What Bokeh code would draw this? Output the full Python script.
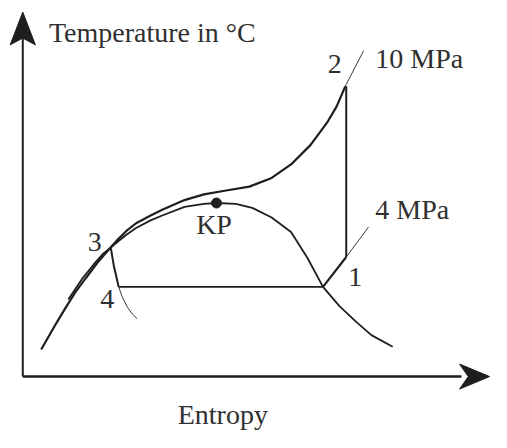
from bokeh.plotting import figure
from bokeh.models import Range1d, ColumnDataSource
from bokeh.core.properties import value
from bokeh.embed import file_html
from bokeh.resources import INLINE

# ---- data (entropy s, temperature T in diagram units) ----
iso10_s = [42, 50, 58, 67, 77, 88, 100, 113, 120, 130, 140, 155, 167, 190, 210, 233, 257, 280, 300, 320, 337, 347, 356]
iso10_T = [86, 100, 114, 129, 145, 160, 176, 191, 199, 209, 217, 225, 231, 241, 247, 251, 255, 264, 278, 298, 321, 338, 359]

dome_s = [70, 84, 96, 106, 113, 120, 130, 140, 155, 167, 190, 210, 223, 243, 260, 280, 300, 317, 333, 350, 367, 383, 405]
dome_T = [138, 159, 174, 185.5, 191, 197, 205, 212, 220, 225, 234, 237, 238, 237, 233, 223, 208, 181, 151, 131, 115, 101, 89]

exp34_s = [114, 117, 120, 122]
exp34_T = [191, 173, 160, 151]
exp34_ext_s = [122, 126, 131, 136, 141]
exp34_ext_T = [151, 140, 130, 123, 118]

cond_s = [122, 333]
cond_T = [151, 151]

iso4_s = [333, 357]
iso4_T = [151, 182]
iso4_ext_s = [357, 380]
iso4_ext_T = [182, 213]

comp_s = [357, 357]
comp_T = [182, 359]

iso10_ext_s = [356, 375]
iso10_ext_T = [359, 396]

kp_s = [223]
kp_T = [238]

yaxis_s = [23, 23]
yaxis_T = [58, 409]
yarrow_s = [23, 36, 23, 10]
yarrow_T = [436, 402, 409, 402]

xaxis_s = [23, 476]
xaxis_T = [58, 58]
xarrow_s = [505, 474, 483, 474]
xarrow_T = [58, 71, 58, 45]

label_text = ["Temperature in °C", "10 MPa", "2", "4 MPa", "1", "KP", "3", "4", "Entropy"]
label_s = [50, 387, 338, 387, 359, 202, 90, 103, 183]
label_T = [415, 388, 382, 231, 161, 216, 198, 138, 19]

# ---- figure ----
p = figure(width=491, height=432, output_backend="svg", toolbar_location=None,
           x_range=Range1d(0, 507), y_range=Range1d(0, 448),
           x_axis_type=None, y_axis_type=None, min_border=0)
p.outline_line_color = None
p.grid.visible = False
p.background_fill_color = "white"
p.border_fill_color = "white"

ink = "#1e1e1e"
thin = "#3a3a3a"

# axes
p.line(yaxis_s, yaxis_T, line_color=ink, line_width=2)
p.patch(yarrow_s, yarrow_T, fill_color=ink, line_color=ink, line_width=1)
p.line(xaxis_s, xaxis_T, line_color=ink, line_width=2.4)
p.patch(xarrow_s, xarrow_T, fill_color=ink, line_color=ink, line_width=1)

# curves
p.line(iso10_s, iso10_T, line_color=ink, line_width=2.2)
p.line(dome_s, dome_T, line_color=ink, line_width=1.8)
p.line(exp34_s, exp34_T, line_color=ink, line_width=2)
p.line(exp34_ext_s, exp34_ext_T, line_color=thin, line_width=1)
p.line(cond_s, cond_T, line_color=ink, line_width=1.6)
p.line(iso4_s, iso4_T, line_color=ink, line_width=2.2)
p.line(iso4_ext_s, iso4_ext_T, line_color=thin, line_width=1)
p.line(comp_s, comp_T, line_color=ink, line_width=2)
p.line(iso10_ext_s, iso10_ext_T, line_color=thin, line_width=1)

p.scatter(kp_s, kp_T, size=10, fill_color=ink, line_color=ink)

src = ColumnDataSource(dict(x=label_s, y=label_T, t=label_text))
p.text(x="x", y="y", text="t", source=src, text_font=value("Liberation Serif"),
       text_font_size="28px", text_color="#303030",
       text_align="left", text_baseline="alphabetic")

open("out.html", "w").write(file_html(p, INLINE))
